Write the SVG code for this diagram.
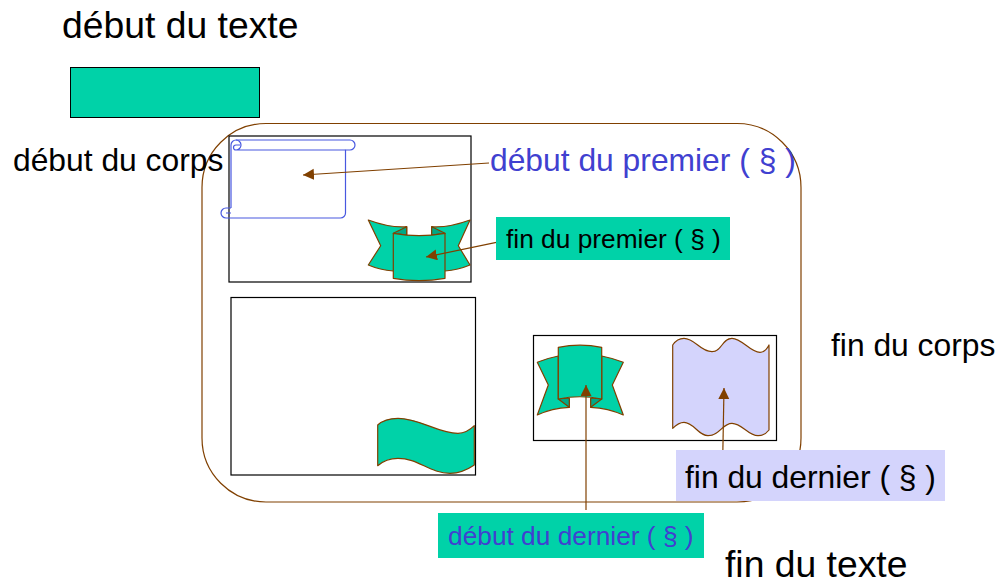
<svg xmlns="http://www.w3.org/2000/svg" width="1005" height="586" viewBox="0 0 1005 586">
<style>
text{font-family:"Liberation Sans",Arial,sans-serif;fill:#000}
.t37{font-size:37.300px}.t32{font-size:31.800px}.t26{font-size:26.300px}
.blue{fill:#4040d0}
.box{fill:none;stroke:#000;stroke-width:1.200}
.shape{stroke:#804000;stroke-width:1.200;stroke-linejoin:round}
.g{fill:#00d2a8}.dg{fill:#00a886}.l{fill:#d4d4fc}
.scroll{fill:none;stroke:#4858e0;stroke-width:1.200}
.c{fill:none;stroke:#804000;stroke-width:1.200;marker-end:url(#a)}
</style>
<defs><marker id="a" markerUnits="userSpaceOnUse" markerWidth="12" markerHeight="12" refX="11" refY="5.500" orient="auto"><path d="M0 0L11 5.500L0 11Z" fill="#804000"/></marker></defs>
<rect width="1005" height="586" fill="#fff"/>
<g id="debut-texte"><text class="t37" x="62" y="38">début du texte</text></g>
<g id="bloc-vert"><rect x="70.500" y="67.500" width="189" height="50" fill="#00d2a8" stroke="#000"/></g>
<g id="corps"><rect x="202" y="123.500" width="599" height="378.500" rx="64" ry="64" fill="none" stroke="#804000" stroke-width="1.200"/></g>
<g id="debut-corps"><text class="t32" x="13" y="171">début du corps</text></g>
<g id="cadre1"><rect class="box" x="229" y="136" width="242" height="146"/></g>
<g id="cadre2"><rect class="box" x="231" y="297.500" width="244.500" height="177.500"/></g>
<g id="cadre3"><rect class="box" x="533.500" y="335.500" width="243" height="105"/></g>
<g id="parchemin"><path class="scroll" d="M231 208V145a5 5 0 0 1 5-5H350a5 5 0 0 1 0 10H345.500V213a5 5 0 0 1-5 5H226a5 5 0 0 1 0-10H231"/><path class="scroll" d="M236 150H345.500M236 140a5 5 0 0 1 0 10M236 150a2.500 2.500 0 0 1 0-5H240M231 213H226"/></g>
<g id="ruban1">
<path class="shape g" d="M368.300 220Q390 228 406.700 226.700V271H393.300Q380 270 368.300 265L380.700 245.700ZM470 220Q448 228 431.700 226.700V271H445Q458 270 470 265L458.300 245.700Z"/>
<path class="shape dg" d="M393.300 233.300L406.700 226.700V235ZM445 233.300L431.700 226.700V235Z"/>
<path class="shape g" d="M393.300 233.300Q419 238 445 233.300V278.300Q419 283 393.300 278.300Z"/>
</g>
<g id="vague1"><path class="shape g" d="M377.700 425C383 420 390 418.300 398 418.300C420 418.300 438 433.300 458 433.300C464 433.300 470 430 474.300 425.700V465C467 470 460 473.300 450 473.300C430 473.300 418 458.300 398 458.300C390 458.300 383 461 377.700 465.700Z"/></g>
<g id="ruban2">
<path class="shape g" d="M537.300 362.300Q548 358 558.300 356V399H569.300V407.300Q552 408 537.300 415L548.300 385ZM623.300 362.300Q612 358 601.700 356V399H590.700V407.300Q608 408 623.300 415L612.300 385Z"/>
<path class="shape dg" d="M558.300 399L569.300 407.300V398ZM601.700 399L590.700 407.300V398Z"/>
<path class="shape g" d="M558.300 347.300Q580 343 601.700 347.300V399Q580 394.500 558.300 399Z"/>
</g>
<g id="vague2"><path class="shape l" d="M672.700 345C676 340 680 338.300 684 338.300C695 338.300 700 351.700 712 351.700C722 351.700 722 338.300 732 338.300C742 338.300 750 352.300 760 352.300C765 352.300 767 349 769 345V430C766 434 762 435.700 758 435.700C748 435.700 742 423.300 732 423.300C722 423.300 720 435.700 708 435.700C698 435.700 694 422.300 684 422.300C680 422.300 676 425 672.700 428.300Z"/></g>
<g id="connecteurs">
<path class="c" d="M489 163L303 175"/>
<path class="c" d="M500 241.700L426 257"/>
<path class="c" d="M586 510V385"/>
<path class="c" d="M722.700 460L724 388"/>
</g>
<g id="debut-premier"><text class="t32 blue" x="490" y="171">début du premier ( § )</text></g>
<g id="fin-premier"><rect x="496" y="217" width="234" height="43" fill="#00d2a8"/><text class="t26" x="506" y="248">fin du premier ( § )</text></g>
<g id="fin-dernier"><rect x="676" y="450" width="269" height="51" fill="#d4d4fc"/><text class="t32" x="685" y="488">fin du dernier ( § )</text></g>
<g id="debut-dernier"><rect x="438" y="513" width="266" height="45" fill="#00d2a8"/><text class="t26 blue" x="448" y="545">début du dernier ( § )</text></g>
<g id="fin-corps"><text class="t32" x="831" y="356">fin du corps</text></g>
<g id="fin-texte"><text class="t37" x="725" y="577">fin du texte</text></g>
</svg>
